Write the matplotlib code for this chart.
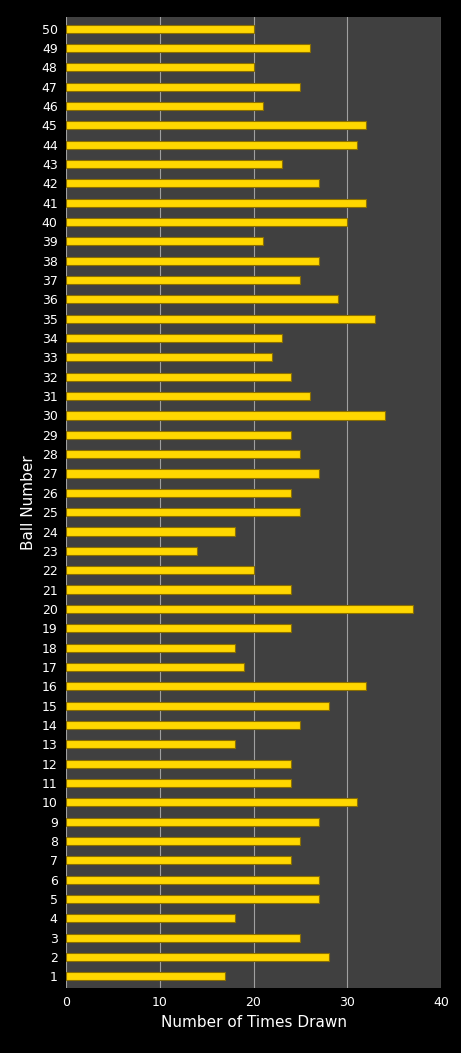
import matplotlib
matplotlib.use("Agg")
import matplotlib.pyplot as plt

balls = list(range(1, 51))
counts = [17,28,25,18,27,27,24,25,27,31,
          24,24,18,25,28,32,19,18,24,37,
          24,20,14,18,25,24,27,25,24,34,
          26,24,22,23,33,29,25,27,21,30,
          32,27,23,31,32,21,25,20,26,20]

fig = plt.figure(figsize=(4.61, 10.53), dpi=100, facecolor="black")
ax = fig.add_axes([66/461, 1-988/1053, 375/461, (988-17)/1053])
ax.set_facecolor("#404040")
ax.barh(balls, counts, height=0.42, color="#FFD700", edgecolor="#8B6F00", linewidth=0.8, zorder=3)
ax.set_xlim(0, 40)
ax.set_ylim(0.4, 50.6)
ax.set_xticks([0, 10, 20, 30, 40])
ax.set_yticks(balls)
ax.grid(axis="x", color="#a0a0a0", linewidth=0.8, zorder=0)
ax.tick_params(colors="white", labelsize=9, length=0, pad=6)
for s in ax.spines.values():
    s.set_visible(False)
ax.set_xlabel("Number of Times Drawn", color="white", fontsize=11)
ax.set_ylabel("Ball Number", color="white", fontsize=11, labelpad=4)
fig.savefig("out.png", dpi=100, facecolor="black")
